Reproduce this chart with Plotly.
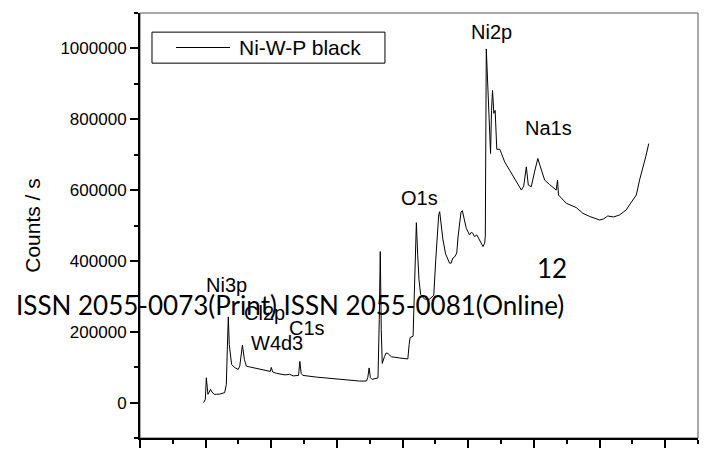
import plotly.graph_objects as go

# XPS survey spectrum of the Ni-W-P black coating
binding_energy_ev = [
    -6, -1, 2, 5, 7, 11, 15, 19, 26, 33, 43, 58, 63, 66, 69, 72, 79, 89, 99, 104, 108,
    112, 118, 124, 134, 144, 165, 185, 197, 200, 204, 216, 229, 242, 256, 267, 283,
    287, 291, 296, 337, 388, 439, 469, 490, 494, 498, 502, 507, 525, 529, 532, 535,
    538, 545, 550, 555, 566, 591, 616, 620, 623, 632, 635, 638, 642, 646, 650, 655,
    667, 682, 695, 701, 707, 710, 713, 717, 723, 731, 738, 743, 748, 753, 758, 765,
    769, 774, 778, 782, 786, 794, 804, 809, 814, 819, 826, 835, 845, 850, 852, 855,
    859, 863, 865, 868, 871, 874, 878, 882, 887, 896, 901, 911, 926, 946, 962, 969,
    977, 983, 992, 1002, 1012, 1023, 1033, 1048, 1068, 1072, 1075, 1099, 1129, 1149,
    1170, 1200, 1212, 1225, 1243, 1261, 1281, 1291, 1312, 1322, 1332, 1342, 1350,
]
counts_per_s = [
    0, 9000, 70000, 40000, 23300, 30000, 37400, 30000, 23300, 23500, 24000, 28100, 51500,
    150000, 241900, 164000, 107700, 98500, 93700, 103000, 135900, 162000, 121800,
    103000, 100700, 98500, 93700, 88900, 88000, 99300, 86600, 82400, 81000, 78200,
    79600, 75400, 76800, 116200, 82400, 76800, 72000, 67500, 63600, 60800, 60800,
    71200, 97900, 70300, 65500, 69800, 234300, 426500, 206200, 110500, 130200,
    140100, 138700, 129400, 126000, 123200, 164000, 183700, 187300, 290600, 431200,
    508000, 417200, 346800, 305000, 292000, 292000, 303000, 403100, 501600, 529700,
    539000, 510000, 459400, 420000, 403100, 393800, 393800, 407900, 410700, 421900,
    467800, 515600, 538100, 541800, 524100, 492300, 473400, 480500, 478200, 468600,
    473400, 459400, 440500, 450100, 470000, 998600, 909500, 843900, 820300, 703300,
    825000, 881300, 816600, 825000, 715300, 715300, 704100, 679600, 656300, 625300,
    600000, 611300, 665600, 614100, 609300, 651500, 689200, 656300, 628100, 615500,
    600000, 628100, 585900, 562600, 550800, 534500, 525500, 515600, 518400, 526900,
    524100, 529700, 543800, 557800, 586000, 628400, 661900, 698500, 731400,
]

# Peak assignments: label, x (eV), y (counts/s) of the label centre
peak_labels = ["Ni2p", "Na1s", "O1s", "Ni3p", "Cl2p", "C1s", "W4d3"]
peak_label_x = [871, 1043, 650, 64, 178, 309, 218]
peak_label_y = [1046000, 775000, 577600, 332000, 253000, 211400, 168000]

y_tick_values = [0, 200000, 400000, 600000, 800000, 1000000]
y_tick_labels = ["0", "200000", "400000", "600000", "800000", "1000000"]

series_name = "Ni-W-P black"
AXIS_FONT = "Liberation Sans, Arial, sans-serif"

fig = go.Figure()
fig.add_trace(go.Scatter(
    x=binding_energy_ev, y=counts_per_s, mode="lines", name=series_name,
    line=dict(color="#000000", width=1), showlegend=False,
))

for label, lx, ly in zip(peak_labels, peak_label_x, peak_label_y):
    fig.add_annotation(x=lx, y=ly, xref="x", yref="y", text=label, showarrow=False,
                       xanchor="center", yanchor="middle",
                       font=dict(family=AXIS_FONT, size=20, color="#000000"))

# Legend box drawn in paper space
fig.add_shape(type="rect", xref="paper", yref="paper", x0=0.0215, x1=0.439, y0=0.882, y1=0.955,
              line=dict(color="#000000", width=1))
fig.add_shape(type="line", xref="paper", yref="paper", x0=0.0645, x1=0.1613, y0=0.9188, y1=0.9188,
              line=dict(color="#000000", width=1))
fig.add_annotation(x=0.1738, y=0.9188, xref="paper", yref="paper", text=series_name,
                   showarrow=False, xanchor="left", yanchor="middle",
                   font=dict(family=AXIS_FONT, size=21, color="#000000"))

# Plot frame (top / right edges are lighter)
fig.add_shape(type="rect", xref="paper", yref="paper", x0=0, x1=1, y0=0, y1=1,
              line=dict(color="#555555", width=1), layer="below")

# Journal overlay text
fig.add_annotation(x=0.2697, y=0.313, xref="paper", yref="paper",
                   text="ISSN 2055-0073(Print) ISSN 2055-0081(Online)", showarrow=False,
                   xanchor="center", yanchor="middle",
                   font=dict(family="Lato, sans-serif", size=26, color="#000000"))
fig.add_annotation(x=0.738, y=0.40, xref="paper", yref="paper", text="12", showarrow=False,
                   xanchor="center", yanchor="middle",
                   font=dict(family="Lato, sans-serif", size=26, color="#000000"))

fig.update_xaxes(
    range=[-200, 1500], tick0=-200, dtick=200, showticklabels=False,
    ticks="outside", ticklen=8, tickwidth=1.5, tickcolor="#000000",
    minor=dict(ticks="outside", ticklen=4, tickwidth=1.5, tickcolor="#000000", dtick=100, tick0=-200),
    showline=True, linecolor="#000000", linewidth=2, showgrid=False, zeroline=False,
)
fig.update_yaxes(
    range=[-100000, 1100000], tickvals=y_tick_values, ticktext=y_tick_labels,
    ticks="outside", ticklen=8, tickwidth=1.5, tickcolor="#000000",
    minor=dict(ticks="outside", ticklen=4, tickwidth=1.5, tickcolor="#000000", dtick=100000, tick0=-100000),
    showline=True, linecolor="#000000", linewidth=2, showgrid=False, zeroline=False,
    tickfont=dict(family=AXIS_FONT, size=17, color="#000000"),
    title=dict(text="Counts / s", font=dict(family=AXIS_FONT, size=21, color="#000000"), standoff=14),
)

fig.update_layout(
    width=707, height=450,
    margin=dict(l=140, r=9, t=13, b=12, autoexpand=False),
    paper_bgcolor="#ffffff", plot_bgcolor="#ffffff",
    showlegend=False,
)

fig.write_html("out.html")
